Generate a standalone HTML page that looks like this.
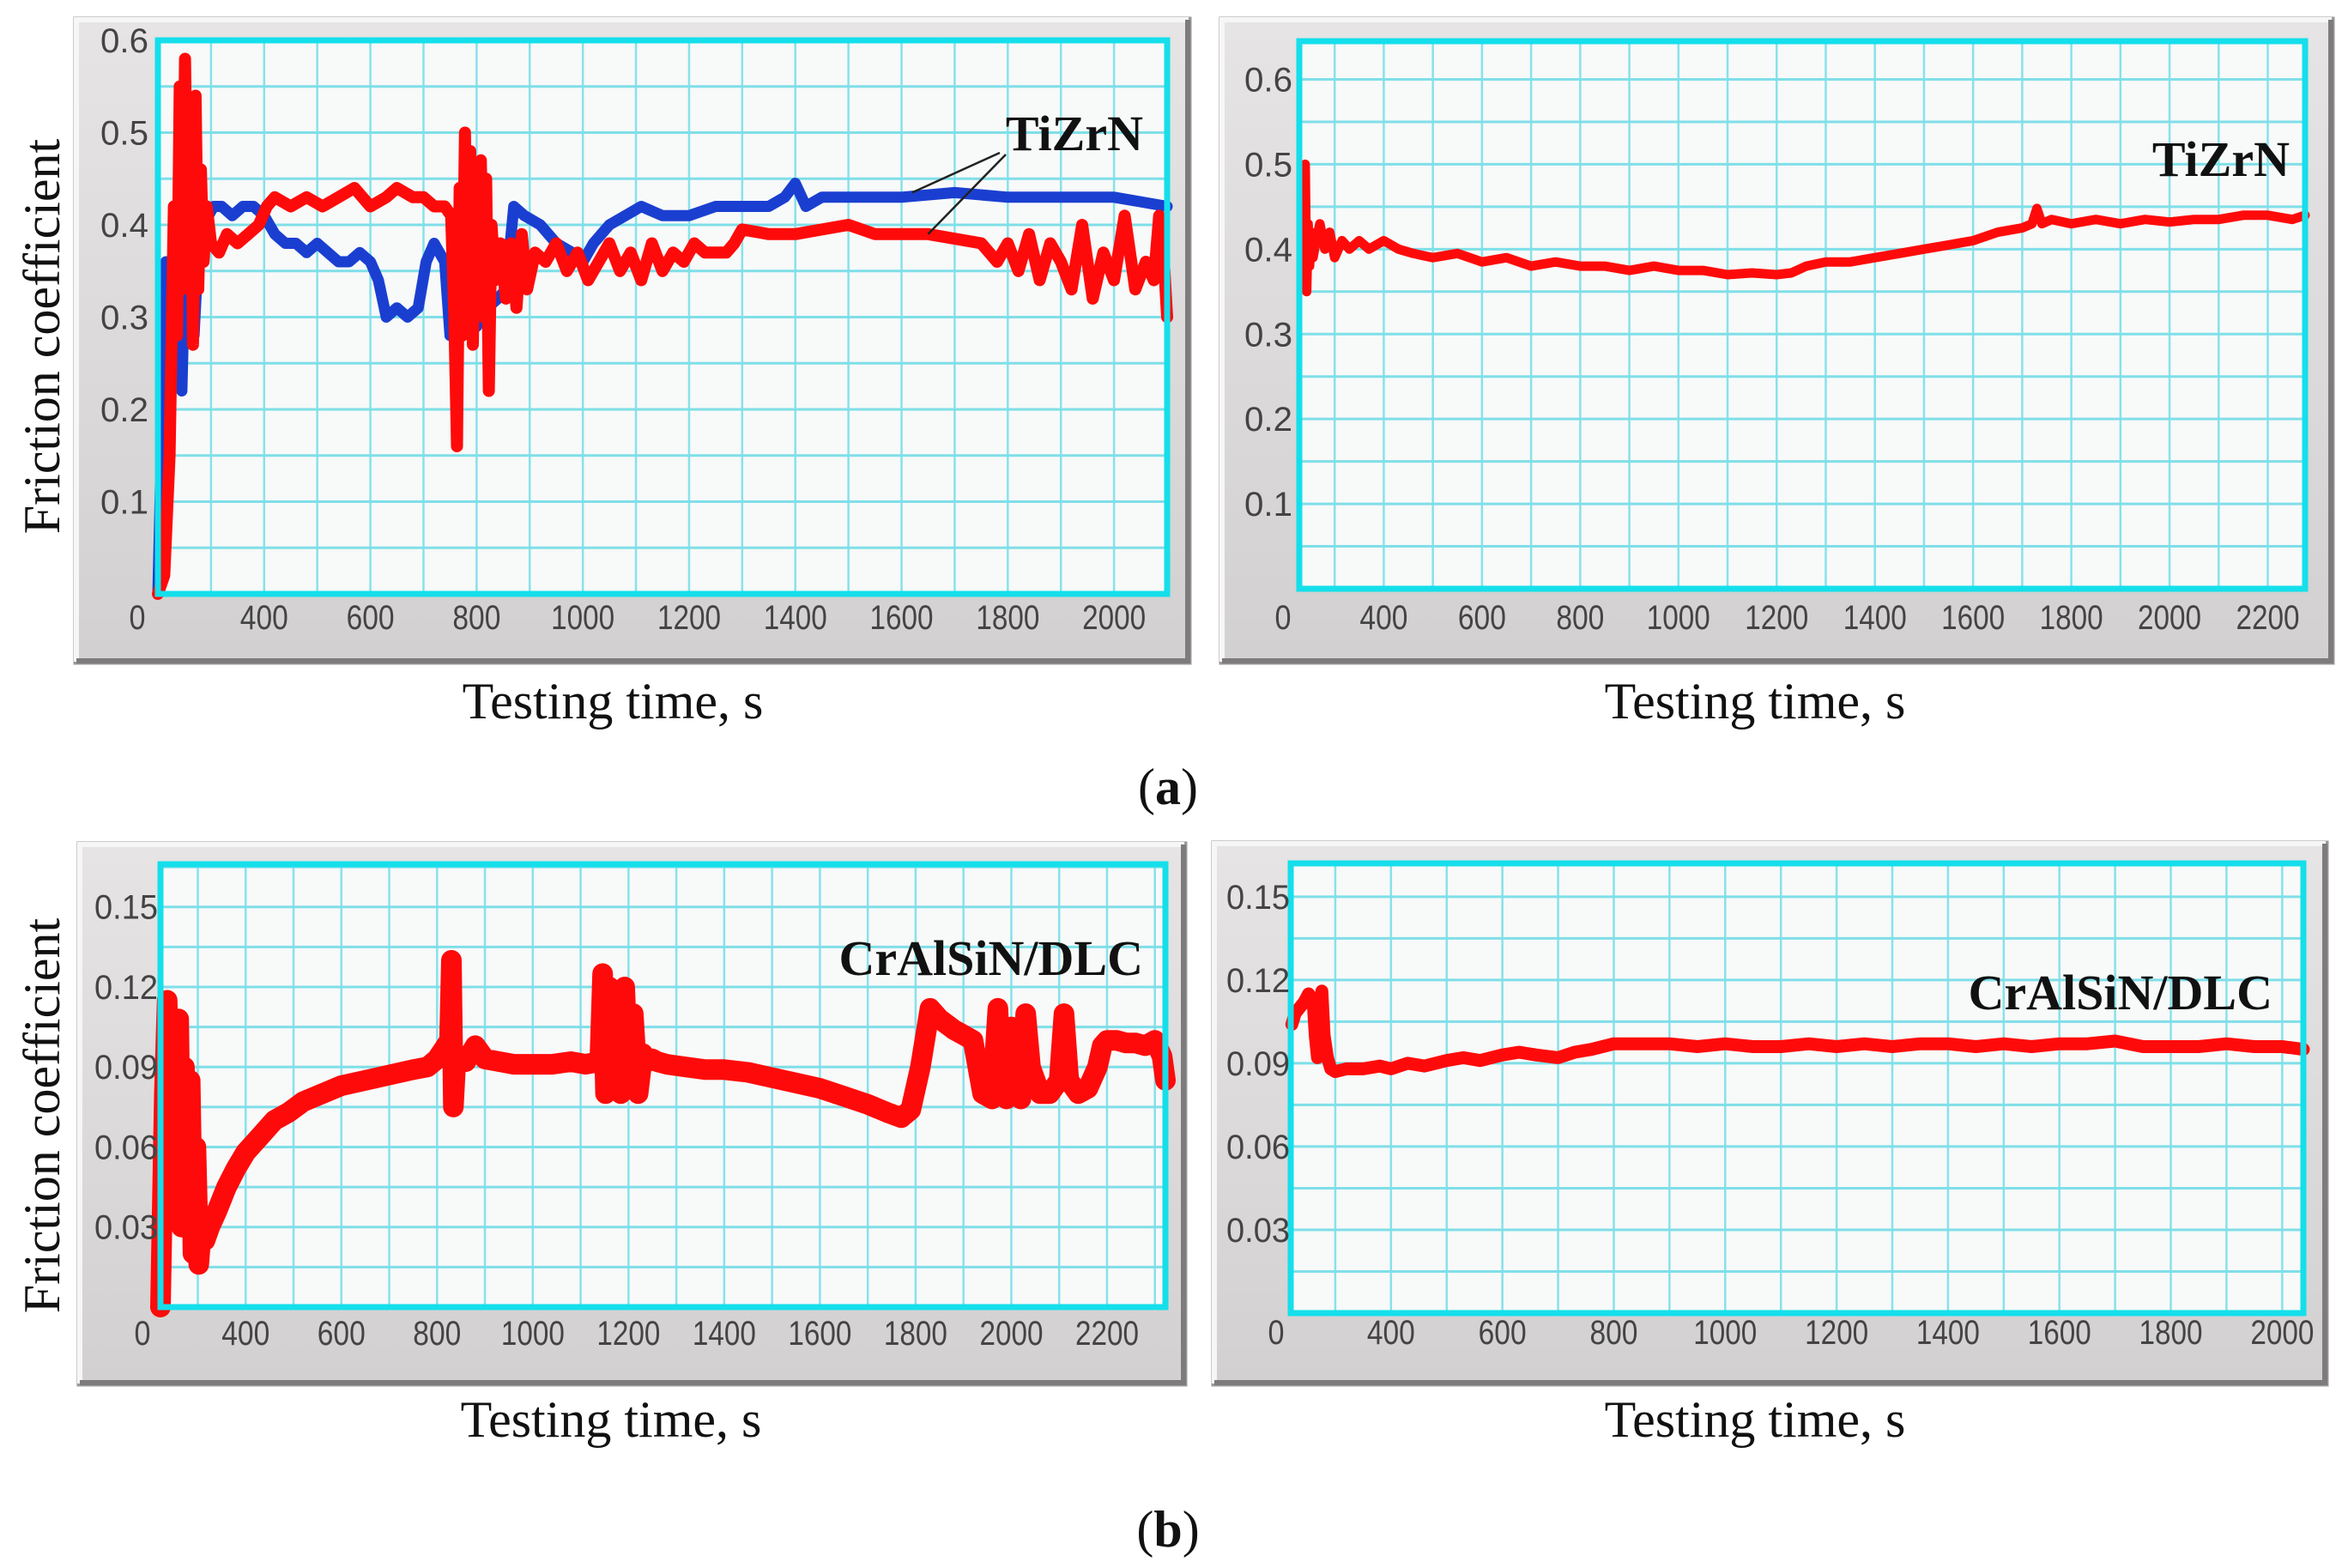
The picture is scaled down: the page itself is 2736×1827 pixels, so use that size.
<!DOCTYPE html>
<html><head><meta charset="utf-8">
<style>
html,body{margin:0;padding:0;background:#fff;}
svg{display:block;}
.tick{font-family:"Liberation Sans Narrow","Liberation Sans",sans-serif;font-size:40px;fill:#444;}
.title{font-family:"Liberation Serif",serif;font-size:60px;fill:#111;}
.lab{font-family:"Liberation Serif",serif;font-size:58px;font-weight:bold;fill:#111;}
</style></head>
<body>
<svg id="fig" xmlns="http://www.w3.org/2000/svg" width="2736" height="1827" viewBox="0 0 2736 1827">
<defs>
<linearGradient id="frameGrad" x1="0" y1="0" x2="0" y2="1">
<stop offset="0" stop-color="#e6e4e4"/><stop offset="1" stop-color="#d2d0d0"/>
</linearGradient>
</defs>
</svg>
<script>
// ---------- Panel (a) left: TiZrN, two curves ----------
const p1RedT = [200,212,222,230,236,241,246,251,256,261,266,271,276,281,286,292,300,315,330,350,370,390,405,420,450,480,510,540,570,600,630,650,680,700,720,740,752,758,763,768,773,778,783,788,793,798,803,808,813,818,823,828,835,845,855,865,875,885,895,910,930,950,970,990,1010,1030,1050,1070,1090,1110,1130,1150,1170,1190,1210,1230,1250,1270,1285,1300,1350,1400,1450,1500,1550,1600,1650,1700,1750,1780,1800,1820,1840,1860,1880,1900,1920,1940,1960,1980,2000,2020,2040,2060,2075,2085,2095,2100];
const p1Red = [0,0.02,0.15,0.42,0.28,0.55,0.33,0.58,0.38,0.52,0.27,0.54,0.33,0.46,0.36,0.42,0.38,0.37,0.39,0.38,0.39,0.4,0.42,0.43,0.42,0.43,0.42,0.43,0.44,0.42,0.43,0.44,0.43,0.43,0.42,0.42,0.41,0.3,0.16,0.44,0.28,0.5,0.3,0.48,0.27,0.46,0.34,0.47,0.3,0.45,0.22,0.4,0.34,0.38,0.32,0.38,0.31,0.39,0.33,0.37,0.36,0.38,0.35,0.37,0.34,0.36,0.38,0.35,0.37,0.34,0.38,0.35,0.37,0.36,0.38,0.37,0.37,0.37,0.38,0.395,0.39,0.39,0.395,0.4,0.39,0.39,0.39,0.385,0.38,0.36,0.38,0.35,0.39,0.34,0.38,0.36,0.33,0.4,0.32,0.37,0.34,0.41,0.33,0.36,0.34,0.41,0.35,0.3];
const p1BlueT = [200,208,215,222,230,238,245,252,260,268,276,285,295,305,320,340,360,380,400,420,440,460,480,500,520,540,560,580,600,615,630,650,670,690,705,720,740,750,760,780,800,820,840,855,870,890,920,950,980,1000,1020,1050,1080,1110,1150,1200,1250,1300,1350,1380,1400,1420,1450,1500,1600,1700,1800,1900,2000,2050,2100];
const p1Blue = [0,0.2,0.36,0.25,0.4,0.3,0.22,0.38,0.3,0.28,0.37,0.4,0.41,0.42,0.42,0.41,0.42,0.42,0.41,0.39,0.38,0.38,0.37,0.38,0.37,0.36,0.36,0.37,0.36,0.34,0.3,0.31,0.3,0.31,0.36,0.38,0.36,0.28,0.3,0.3,0.29,0.31,0.32,0.33,0.42,0.41,0.4,0.38,0.37,0.36,0.38,0.4,0.41,0.42,0.41,0.41,0.42,0.42,0.42,0.43,0.445,0.42,0.43,0.43,0.43,0.435,0.43,0.43,0.43,0.425,0.42];
const p1YTicks = [0.1,0.2,0.3,0.4,0.5,0.6];
const p1XTicks = [400,600,800,1000,1200,1400,1600,1800,2000];

// ---------- Panel (a) right: TiZrN ----------
const p2T = [236,240,243,246,249,252,256,262,270,280,290,300,315,330,350,370,400,430,460,500,550,600,650,700,750,800,850,900,950,1000,1050,1100,1150,1200,1230,1260,1300,1350,1400,1450,1500,1550,1600,1650,1700,1720,1730,1740,1760,1800,1850,1900,1950,2000,2050,2100,2150,2200,2250,2276];
const p2Red = [0.41,0.5,0.35,0.43,0.38,0.42,0.39,0.41,0.43,0.4,0.42,0.39,0.41,0.4,0.41,0.4,0.41,0.4,0.395,0.39,0.395,0.385,0.39,0.38,0.385,0.38,0.38,0.375,0.38,0.375,0.375,0.37,0.372,0.37,0.372,0.38,0.385,0.385,0.39,0.395,0.4,0.405,0.41,0.42,0.425,0.43,0.448,0.43,0.435,0.43,0.435,0.43,0.435,0.432,0.435,0.435,0.44,0.44,0.435,0.44];
const p2YTicks = [0.1,0.2,0.3,0.4,0.5,0.6];
const p2XTicks = [400,600,800,1000,1200,1400,1600,1800,2000,2200];

// ---------- Panel (b) left: CrAlSiN/DLC ----------
const p3T = [222,230,236,242,248,254,260,266,272,278,284,290,296,302,308,315,325,340,360,380,400,430,460,490,520,560,600,650,700,750,780,800,815,826,830,834,840,860,880,900,930,960,1000,1040,1080,1110,1140,1146,1152,1160,1168,1176,1184,1192,1200,1210,1220,1230,1240,1250,1260,1280,1320,1360,1400,1450,1500,1550,1600,1650,1700,1740,1770,1790,1810,1830,1850,1865,1880,1900,1920,1940,1960,1972,1980,1990,2000,2010,2020,2030,2040,2060,2080,2100,2110,2120,2140,2160,2180,2190,2200,2220,2240,2260,2280,2300,2315,2322];
const p3Red = [0.0,0.08,0.115,0.06,0.1,0.04,0.108,0.03,0.09,0.04,0.085,0.02,0.06,0.016,0.03,0.025,0.03,0.036,0.045,0.052,0.058,0.064,0.07,0.073,0.077,0.08,0.083,0.085,0.087,0.089,0.09,0.093,0.097,0.1,0.13,0.075,0.095,0.092,0.098,0.093,0.092,0.091,0.091,0.091,0.092,0.091,0.092,0.125,0.08,0.12,0.085,0.115,0.08,0.12,0.085,0.11,0.08,0.095,0.092,0.093,0.092,0.091,0.09,0.089,0.089,0.088,0.086,0.084,0.082,0.079,0.076,0.073,0.071,0.074,0.09,0.112,0.108,0.106,0.104,0.102,0.1,0.08,0.078,0.112,0.08,0.078,0.105,0.08,0.078,0.11,0.09,0.08,0.08,0.085,0.11,0.085,0.08,0.082,0.09,0.098,0.1,0.1,0.099,0.099,0.098,0.1,0.094,0.085];
const p3YTicks = [0.03,0.06,0.09,0.12,0.15];
const p3XTicks = [400,600,800,1000,1200,1400,1600,1800,2000,2200];

// ---------- Panel (b) right: CrAlSiN/DLC ----------
const p4T = [222,228,236,244,252,260,264,268,272,276,280,286,292,300,320,350,380,400,430,460,500,530,560,600,630,660,700,730,760,800,850,900,950,1000,1050,1100,1150,1200,1250,1300,1350,1400,1450,1500,1550,1600,1650,1700,1750,1800,1850,1900,1950,2000,2038];
const p4Red = [0.104,0.108,0.11,0.112,0.115,0.113,0.1,0.092,0.11,0.116,0.1,0.092,0.088,0.087,0.088,0.088,0.089,0.088,0.09,0.089,0.091,0.092,0.091,0.093,0.094,0.093,0.092,0.094,0.095,0.097,0.097,0.097,0.096,0.097,0.096,0.096,0.097,0.096,0.097,0.096,0.097,0.097,0.096,0.097,0.096,0.097,0.097,0.098,0.096,0.096,0.096,0.097,0.096,0.096,0.095];
const p4YTicks = [0.03,0.06,0.09,0.12,0.15];
const p4XTicks = [400,600,800,1000,1200,1400,1600,1800,2000];

const NS = 'http://www.w3.org/2000/svg';
const svg = document.getElementById('fig');
function mk(tag, attrs, parent){
  const e = document.createElementNS(NS, tag);
  for (const k in attrs) e.setAttribute(k, attrs[k]);
  (parent||svg).appendChild(e);
  return e;
}
function tickText(parent, x, y, str){
  const tx = mk('text', {x:x, y:y, 'text-anchor':'middle', class:'tick', textLength:(str.length*18.5).toFixed(0), lengthAdjust:'spacingAndGlyphs'}, parent);
  tx.textContent = str;
  return tx;
}

function panel(cfg){
  const g = mk('g', {});
  
  
  const fw = cfg.fx1 - cfg.fx0, fh = cfg.fy1 - cfg.fy0;
  const frame = mk('rect', {x:cfg.fx0, y:cfg.fy0, width:fw, height:fh, fill:'url(#frameGrad)', stroke:'#9a9898', 'stroke-width':3}, g);
  
  
  mk('path', {d:`M${cfg.fx0+2} ${cfg.fy1-2} L${cfg.fx0+2} ${cfg.fy0+2} L${cfg.fx1-2} ${cfg.fy0+2}`, fill:'none', stroke:'#f7f6f6', 'stroke-width':6}, g);
  mk('path', {d:`M${cfg.fx0+2} ${cfg.fy1-3} L${cfg.fx1-3} ${cfg.fy1-3} L${cfg.fx1-3} ${cfg.fy0+2}`, fill:'none', stroke:'#7d7b7b', 'stroke-width':6}, g);
  const X = t => cfg.px0 + (t - cfg.t0) / (cfg.t1 - cfg.t0) * (cfg.px1 - cfg.px0);
  const Y = v => cfg.py1 - (v - 0) / cfg.vmax * (cfg.py1 - cfg.py0);
  const plot = mk('rect', {x:cfg.px0, y:cfg.py0, width:cfg.px1-cfg.px0, height:cfg.py1-cfg.py0, fill:'#f8f9f9'}, g);
  
  
  for (let t = Math.ceil(cfg.t0/100)*100; t < cfg.t1; t += 100){
    const l = mk('line', {x1:X(t), x2:X(t), y1:cfg.py0, y2:cfg.py1, stroke:'#86e2ea', 'stroke-width':2.5}, g);
    
    
  }
  for (let i = 1; i * cfg.gstep < cfg.vmax - 1e-9; i++){
    const v = i * cfg.gstep;
    const l = mk('line', {x1:cfg.px0, x2:cfg.px1, y1:Y(v), y2:Y(v), stroke:'#7fdfe8', 'stroke-width':3}, g);
    
    
  }
  cfg.series.forEach(s => {
    let d = '';
    s.t.forEach((t, i) => { d += (i ? 'L' : 'M') + X(t).toFixed(1) + ' ' + Y(s.v[i]).toFixed(1); });
    const p = mk('path', {d:d, fill:'none', stroke:s.color, 'stroke-width':s.w, 'stroke-linejoin':'round', 'stroke-linecap':'round'}, g);
    
    
  });
  const border = mk('rect', {x:cfg.px0, y:cfg.py0, width:cfg.px1-cfg.px0, height:cfg.py1-cfg.py0, fill:'none', stroke:'#14dfeb', 'stroke-width':7}, g);
  
  
  cfg.yticks.forEach(v => {
    const tx = tickText(g, cfg.ylx, Y(v)+14, String(v));
    
    
  });
  const z = tickText(g, cfg.zx, cfg.xly, '0');
  
  
  cfg.xticks.forEach(t => {
    const tx = tickText(g, X(t), cfg.xly, String(t));
    
    
  });
  const xt = mk('text', {x:cfg.xtx, y:cfg.xty, 'text-anchor':'middle', class:'title'}, g);
  xt.textContent = 'Testing time, s';
  
  
  const lb = mk('text', {x:cfg.labx, y:cfg.laby, 'text-anchor':'end', class:'lab'}, g);
  lb.textContent = cfg.label;
  
  
  return {X, Y, g};
}

const a1 = panel({name:'panel-a-left', fx0:87, fx1:1387, fy0:21, fy1:773, px0:184, px1:1360, py0:47, py1:692,
  t0:200, t1:2100, vmax:0.6, gstep:0.05, ylx:145, zx:160, xly:733, xtx:714, xty:837,
  yticks:p1YTicks, xticks:p1XTicks, label:'TiZrN', labx:1332, laby:175,
  series:[{name:'tizrn-blue-curve', t:p1BlueT, v:p1Blue, color:'#1a3fd0', w:13},
          {name:'tizrn-red-curve', t:p1RedT, v:p1Red, color:'#ff0a0a', w:14}]});
const ar1 = mk('line', {x1:1165, y1:178, x2:a1.X(1620), y2:a1.Y(0.435), stroke:'#222', 'stroke-width':2.5});


const ar2 = mk('line', {x1:1172, y1:180, x2:a1.X(1650), y2:a1.Y(0.39), stroke:'#222', 'stroke-width':2.5});



panel({name:'panel-a-right', fx0:1422, fx1:2719, fy0:21, fy1:773, px0:1514, px1:2686, py0:48, py1:686,
  t0:228, t1:2276, vmax:0.645, gstep:0.05, ylx:1478, zx:1495, xly:733, xtx:2045, xty:837,
  yticks:p2YTicks, xticks:p2XTicks, label:'TiZrN', labx:2668, laby:205,
  series:[{name:'tizrn-red-curve', t:p2T, v:p2Red, color:'#ff0a0a', w:11}]});

panel({name:'panel-b-left', fx0:91, fx1:1382, fy0:982, fy1:1614, px0:187, px1:1358, py0:1007, py1:1523,
  t0:222, t1:2322, vmax:0.166, gstep:0.015, ylx:147, zx:166, xly:1567, xtx:712, xty:1674,
  yticks:p3YTicks, xticks:p3XTicks, label:'CrAlSiN/DLC', labx:1332, laby:1136,
  series:[{name:'cralsin-dlc-red-curve', t:p3T, v:p3Red, color:'#ff0a0a', w:24}]});

panel({name:'panel-b-right', fx0:1413, fx1:2712, fy0:981, fy1:1614, px0:1504, px1:2684, py0:1006, py1:1530,
  t0:220, t1:2038, vmax:0.162, gstep:0.015, ylx:1466, zx:1487, xly:1566, xtx:2045, xty:1674,
  yticks:p4YTicks, xticks:p4XTicks, label:'CrAlSiN/DLC', labx:2648, laby:1176,
  series:[{name:'cralsin-dlc-red-curve', t:p4T, v:p4Red, color:'#ff0a0a', w:15}]});

[[49,392],[49,1300]].forEach(p => {
  const t = mk('text', {x:p[0], y:p[1], 'text-anchor':'middle', class:'title', transform:`rotate(-90 ${p[0]} ${p[1]})`, dy:'20'});
  t.textContent = 'Friction coefficient';
  
  
});
[['a',937],['b',1802]].forEach(c => {
  const t = mk('text', {x:1361, y:c[1], 'text-anchor':'middle', class:'title'});
  const s1 = mk('tspan', {}, t); s1.textContent = '(';
  const s2 = mk('tspan', {'font-weight':'bold'}, t); s2.textContent = c[0];
  const s3 = mk('tspan', {}, t); s3.textContent = ')';
  
  
});
</script>
</body></html>
